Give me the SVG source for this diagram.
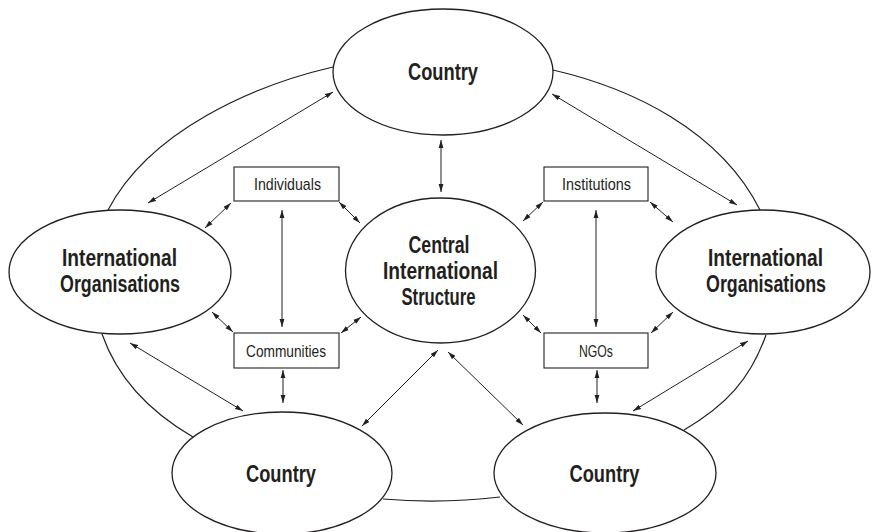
<svg xmlns="http://www.w3.org/2000/svg" width="872" height="532" viewBox="0 0 872 532">
  <style>
    .node { fill: #ffffff; stroke: #231f20; stroke-width: 1.3; }
    .box { fill: #ffffff; stroke: #231f20; stroke-width: 1.1; }
    .big { font-family: "Liberation Sans", Arial, sans-serif; font-weight: bold; font-size: 23px; fill: #231f20; text-anchor: middle; }
    .small { font-family: "Liberation Sans", Arial, sans-serif; font-size: 17px; fill: #231f20; text-anchor: middle; }
    .arc { fill: none; stroke: #231f20; stroke-width: 1.2; }
    .arrow { fill: none; stroke: #231f20; stroke-width: 1; marker-start: url(#head); marker-end: url(#head); }
  </style>
  <defs>
    <marker id="head" viewBox="0 0 8 6" refX="8" refY="3" markerWidth="8" markerHeight="6" markerUnits="userSpaceOnUse" orient="auto-start-reverse">
      <path d="M0,0.6 L8,3 L0,5.4 Z" fill="#231f20"/>
    </marker>
  </defs>

  <g id="connectors">
    <!-- outer ring linking the outer nodes -->
    <path class="arc" d="M333,67 C255,85 150,130 108,210"/>
    <path class="arc" d="M553,70 C631,88 720,130 760,210"/>
    <path class="arc" d="M102,334 C118,380 150,412 193,437"/>
    <path class="arc" d="M766,335 C750,380 725,406 684,430"/>
    <path class="arc" d="M383,499 Q441,504 500,497"/>
    <!-- two-way links -->
    <line class="arrow" x1="441" y1="140" x2="441" y2="192"/>
    <line class="arrow" x1="333" y1="92" x2="148" y2="203"/>
    <line class="arrow" x1="552" y1="94" x2="737" y2="205"/>
    <line class="arrow" x1="282" y1="210" x2="282" y2="327"/>
    <line class="arrow" x1="596" y1="210" x2="596" y2="327"/>
    <line class="arrow" x1="231" y1="203" x2="205" y2="228"/>
    <line class="arrow" x1="339" y1="202" x2="360" y2="223"/>
    <line class="arrow" x1="233" y1="332" x2="212" y2="312"/>
    <line class="arrow" x1="341" y1="333" x2="361" y2="317"/>
    <line class="arrow" x1="543" y1="202" x2="523" y2="221"/>
    <line class="arrow" x1="650" y1="202" x2="673" y2="222"/>
    <line class="arrow" x1="541" y1="333" x2="523" y2="315"/>
    <line class="arrow" x1="651" y1="333" x2="673" y2="312"/>
    <line class="arrow" x1="283" y1="370" x2="283" y2="403"/>
    <line class="arrow" x1="597" y1="370" x2="597" y2="403"/>
    <line class="arrow" x1="130" y1="343" x2="243" y2="411"/>
    <line class="arrow" x1="438" y1="350" x2="362" y2="426"/>
    <line class="arrow" x1="448" y1="352" x2="523" y2="425"/>
    <line class="arrow" x1="748" y1="341" x2="633" y2="411"/>
  </g>

  <g id="country-top">
    <ellipse class="node" cx="443" cy="72" rx="110" ry="63"/>
    <text class="big" x="443" y="80" textLength="70" lengthAdjust="spacingAndGlyphs">Country</text>
  </g>
  <g id="central">
    <ellipse class="node" cx="440.5" cy="270.5" rx="95" ry="72.5"/>
    <text class="big" x="439" y="253" textLength="61" lengthAdjust="spacingAndGlyphs">Central</text>
    <text class="big" x="440.5" y="279" textLength="115" lengthAdjust="spacingAndGlyphs">International</text>
    <text class="big" x="438.5" y="305" textLength="74" lengthAdjust="spacingAndGlyphs">Structure</text>
  </g>
  <g id="org-left">
    <ellipse class="node" cx="120" cy="272" rx="111" ry="62"/>
    <text class="big" x="119.5" y="266" textLength="115" lengthAdjust="spacingAndGlyphs">International</text>
    <text class="big" x="120" y="292" textLength="120" lengthAdjust="spacingAndGlyphs">Organisations</text>
  </g>
  <g id="org-right">
    <ellipse class="node" cx="763" cy="272" rx="107" ry="62"/>
    <text class="big" x="765.5" y="266" textLength="115" lengthAdjust="spacingAndGlyphs">International</text>
    <text class="big" x="766" y="292" textLength="120" lengthAdjust="spacingAndGlyphs">Organisations</text>
  </g>
  <g id="country-left">
    <ellipse class="node" cx="282" cy="473" rx="110" ry="61"/>
    <text class="big" x="281" y="482" textLength="70" lengthAdjust="spacingAndGlyphs">Country</text>
  </g>
  <g id="country-right">
    <ellipse class="node" cx="605" cy="473" rx="111" ry="60"/>
    <text class="big" x="604.5" y="482" textLength="70" lengthAdjust="spacingAndGlyphs">Country</text>
  </g>
  <g id="individuals">
    <rect class="box" x="234" y="167" width="105" height="34"/>
    <text class="small" x="287.5" y="190" textLength="67" lengthAdjust="spacingAndGlyphs">Individuals</text>
  </g>
  <g id="communities">
    <rect class="box" x="234" y="333" width="105" height="35"/>
    <text class="small" x="286" y="356.5" textLength="80" lengthAdjust="spacingAndGlyphs">Communities</text>
  </g>
  <g id="institutions">
    <rect class="box" x="544" y="167" width="104" height="34"/>
    <text class="small" x="596.5" y="190" textLength="69" lengthAdjust="spacingAndGlyphs">Institutions</text>
  </g>
  <g id="ngos">
    <rect class="box" x="544" y="333" width="104" height="35"/>
    <text class="small" x="596" y="356.5" textLength="34" lengthAdjust="spacingAndGlyphs">NGOs</text>
  </g>
</svg>
